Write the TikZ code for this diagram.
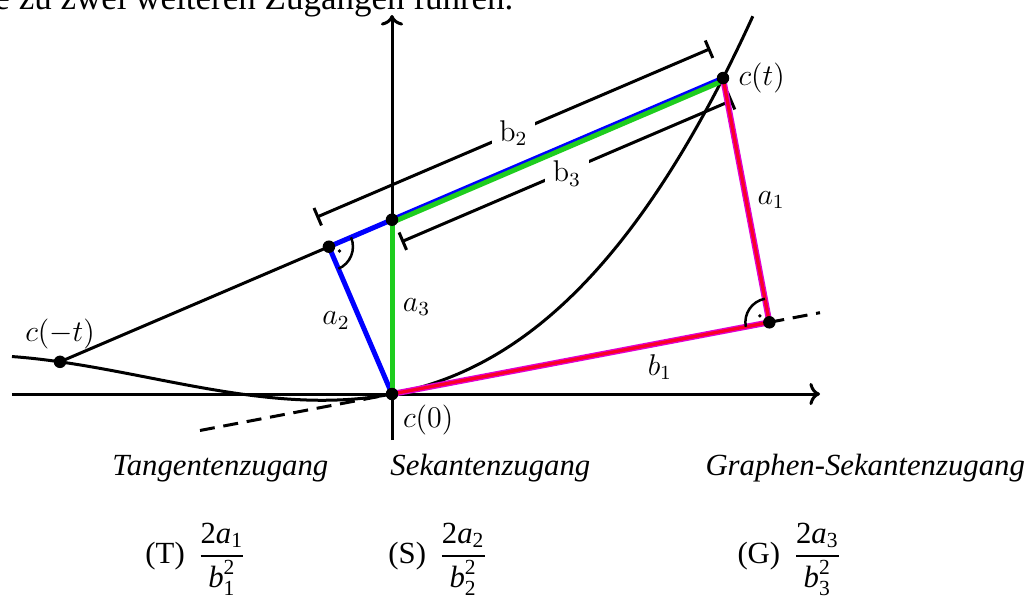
\documentclass[tikz,border=0pt]{standalone}
\usepackage{amsmath}
\usepackage[no-math]{fontspec}
\usetikzlibrary{arrows.meta,calc,positioning}
\newfontfamily\tnr{Liberation Serif}
\newcommand{\tv}[1]{\text{\tnr\itshape #1}}
\newcommand{\tn}[1]{\text{\tnr #1}}
\definecolor{segblue}{RGB}{0,0,255}
\definecolor{seggreen}{RGB}{30,205,30}
\definecolor{segred}{RGB}{250,0,40}
\definecolor{segmag}{RGB}{225,0,210}
\tikzset{
  dot/.style={circle,fill=black,inner sep=0pt,minimum size=5pt},
  lab/.style={text=black,font=\large},
  bluemark/.style={segblue,line width=2pt},
  greenmark/.style={seggreen,line width=2pt},
  redmark/.style={segmag,line width=2.4pt,postaction={draw=segred,line width=1.3pt}},
  dimline/.style={very thick,{Bar[width=7.6pt]}-{Bar[width=7.6pt]}},
  caption/.style={font=\tnr\fontsize{12.3}{14}\selectfont\itshape,anchor=base west,inner sep=0pt},
  formula/.style={font=\tnr\fontsize{12.3}{14}\selectfont,anchor=base west,inner sep=0pt},
}
\begin{document}
\begin{tikzpicture}[x=40pt,y=40pt]
\useasboundingbox (-3.92,-2.03) rectangle (6.38,3.94);
% points
\coordinate (c0) at (0,0);
\coordinate (ct) at (3.31,3.1593);
\coordinate (ctm) at (-3.32,0.3218);
\coordinate (tl) at (-1.92,-0.3648);
\coordinate (tr) at (4.28,0.8132);
\coordinate (xl) at (-3.80,0);
\coordinate (xr) at (4.28,0);
\coordinate (yb) at (0,-0.46);
\coordinate (yt) at (0,3.79);
\coordinate (ys) at (intersection of ctm--ct and yb--yt);
\coordinate (fs) at ($(ctm)!(c0)!(ct)$);
\coordinate (ft) at ($(c0)!(ct)!(tr)$);
% axes, graph, secant and tangent
\draw[very thick,->] (xl) -- (xr);
\draw[very thick,->] (yb) -- (yt);
\draw[very thick] plot[domain=-3.8:3.61,samples=120,smooth] (\x,{0.19*\x+0.1588*\x*\x+0.0218*\x*\x*\x});
\draw[very thick] (ctm) -- (ct);
\draw[very thick,dash pattern=on 6pt off 3.5pt] (tl) -- (c0);
\draw[very thick,dash pattern=on 6pt off 3.5pt] (ft) -- (tr);
% lengths
\draw[dimline] ($(fs)!12.8pt!90:(ct)$) -- node[lab,fill=white,inner sep=3pt] {$\mathrm{b}_2$} ($(ct)!12.8pt!-90:(fs)$);
\draw[dimline] ($(ys)!9.6pt!-90:(ct)$) -- node[lab,fill=white,inner sep=3pt,yshift=-1pt] {$\mathrm{b}_3$} ($(ct)!9.6pt!90:(ys)$);
% coloured distances
\draw[bluemark] (fs) -- node[lab,left] {$a_2$} (c0);
\draw[bluemark] (fs) -- (ct);
\draw[greenmark] ($(ys)!1pt!-90:(ct)$) -- ($(ct)!1pt!90:(ys)$);
\draw[greenmark] (c0) -- node[lab,right] {$a_3$} (ys);
\draw[redmark] (c0) -- node[lab,below,pos=0.71] {$b_1$} (ft);
\draw[redmark] (ct) -- node[lab,right] {$a_1$} (ft);
% right angles
\draw[line width=1pt] ([shift={(23.18:0.24)}]fs) arc[start angle=23.18,end angle=-66.82,radius=0.24];
\fill ([shift={(-21.82:0.115)}]fs) circle (0.75pt);
\draw[line width=1pt] ([shift={(100.76:0.24)}]ft) arc[start angle=100.76,end angle=190.76,radius=0.24];
\fill ([shift={(145.76:0.115)}]ft) circle (0.75pt);
% points on the graph
\node[dot] (p0) at (c0) {};
\node[dot] (pt) at (ct) {};
\node[dot] (pm) at (ctm) {};
\node[dot] (pf) at (fs) {};
\node[dot] (ps) at (ys) {};
\node[dot] (pq) at (ft) {};
\node[lab,right=0pt of pt] (lt) {$c(t)$};
\node[lab,above=-1pt of pm] (lm) {$c(-t)$};
\node[lab,below right=-1pt and -1pt of p0] (l0) {$c(0)$};
% text
\node[anchor=base west,inner sep=0pt,font=\tnr\fontsize{14}{16}\selectfont] (intro) at (-3.98,3.84) {e zu zwei weiteren Zugängen führen.};
\node[caption] (tz) at (-2.80,-0.81) {Tangentenzugang};
\node[caption] (sz) at (-0.02,-0.81) {Sekantenzugang};
\node[caption] (gz) at (3.13,-0.81) {Graphen-Sekantenzugang};
\node[formula] (qt) at (-2.47,-1.695) {(T)\, $\dfrac{\tn{2}\tv{a}_{\tn{1}}}{\tv{b}_{\tn{1}}^{\tn{2}}}$};
\node[formula] (qs) at (-0.04,-1.695) {(S)\, $\dfrac{\tn{2}\tv{a}_{\tn{2}}}{\tv{b}_{\tn{2}}^{\tn{2}}}$};
\node[formula] (qg) at (3.45,-1.695) {(G)\, $\dfrac{\tn{2}\tv{a}_{\tn{3}}}{\tv{b}_{\tn{3}}^{\tn{2}}}$};
\end{tikzpicture}
\end{document}
